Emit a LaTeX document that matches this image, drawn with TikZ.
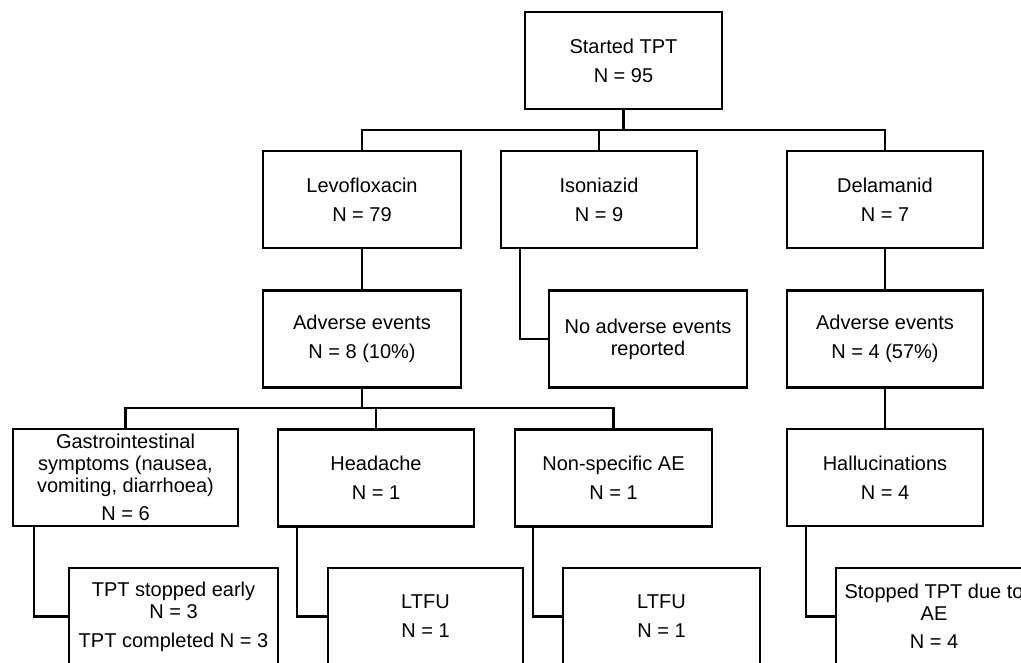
\documentclass[tikz,border=0pt]{standalone}
\usepackage{fontspec}
\setmainfont{Liberation Sans}
\begin{document}
\begin{tikzpicture}[x=1pt,y=-1pt,
  box/.style={draw, line width=2.2pt, align=center, inner sep=0pt,
    minimum width=196pt, minimum height=97pt,
    font=\fontsize{20}{22}\selectfont},
  link/.style={line width=2.2pt}]
\useasboundingbox (0,0) rectangle (1021,663);
\clip (0,0) rectangle (1021,663);
\fill[white] (0,0) rectangle (1021,663);
% level 1
\node[box, minimum width=197pt] (start) at (623.5,60.5) {Started TPT\\[7pt]N = 95};
% level 2
\node[box, minimum width=198pt] (levo) at (362,199.5) {Levofloxacin\\[7pt]N = 79};
\node[box] (iso) at (599,199.5) {Isoniazid\\[7pt]N = 9};
\node[box] (dela) at (885,199.5) {Delamanid\\[7pt]N = 7};
% level 3
\node[box, minimum width=198pt] (ae1) at (362,339) {Adverse events\\[7pt]N = 8 (10\%)};
\node[box, minimum width=198pt] (noae) at (648,339) {No adverse events\\reported};
\node[box] (ae2) at (885,339) {Adverse events\\[7pt]N = 4 (57\%)};
% level 4
\node[box, minimum width=225pt] (gi) at (125.5,477.5) {Gastrointestinal\\symptoms (nausea,\\vomiting, diarrhoea)\\[6pt]N = 6};
\node[box] (head) at (376,478) {Headache\\[7pt]N = 1};
\node[box, minimum width=197pt] (nonspec) at (613.5,478) {Non-specific AE\\[7pt]N = 1};
\node[box] (hall) at (885,477.5) {Hallucinations\\[7pt]N = 4};
% level 5
\node[box, minimum width=209pt] (stop1) at (173.5,616.5) {TPT stopped early\\N = 3\\[7pt]TPT completed N = 3};
\node[box, minimum width=195pt] (ltfu1) at (425.5,616.5) {LTFU\\[7pt]N = 1};
\node[box, minimum width=197pt] (ltfu2) at (661.5,616.5) {LTFU\\[7pt]N = 1};
\node[box] (stop2) at (934,616.5) {Stopped TPT due to\\AE\\[6pt]N = 4};
% buses
\coordinate (bus1) at (623.5,130);
\coordinate (bus2) at (362,408);
% connectors
\draw[link] (start.south) -- (bus1);
\draw[link] (levo.north) |- (dela.north |- bus1) -- (dela.north);
\draw[link] (iso.north) -- (iso.north |- bus1);
\draw[link] (levo.south) -- (ae1.north);
\draw[link] (dela.south) -- (ae2.north);
\draw[link] ([xshift=20pt]iso.south west) |- (noae.west);
\draw[link] (ae1.south) -- (bus2);
\draw[link] (gi.north) |- (nonspec.north |- bus2) -- (nonspec.north);
\draw[link] (head.north) -- (head.north |- bus2);
\draw[link] (ae2.south) -- (hall.north);
\draw[link] ([xshift=22pt]gi.south west) |- (stop1.west);
\draw[link] ([xshift=20pt]head.south west) |- (ltfu1.west);
\draw[link] ([xshift=19pt]nonspec.south west) |- (ltfu2.west);
\draw[link] ([xshift=20pt]hall.south west) |- (stop2.west);
\end{tikzpicture}
\end{document}
